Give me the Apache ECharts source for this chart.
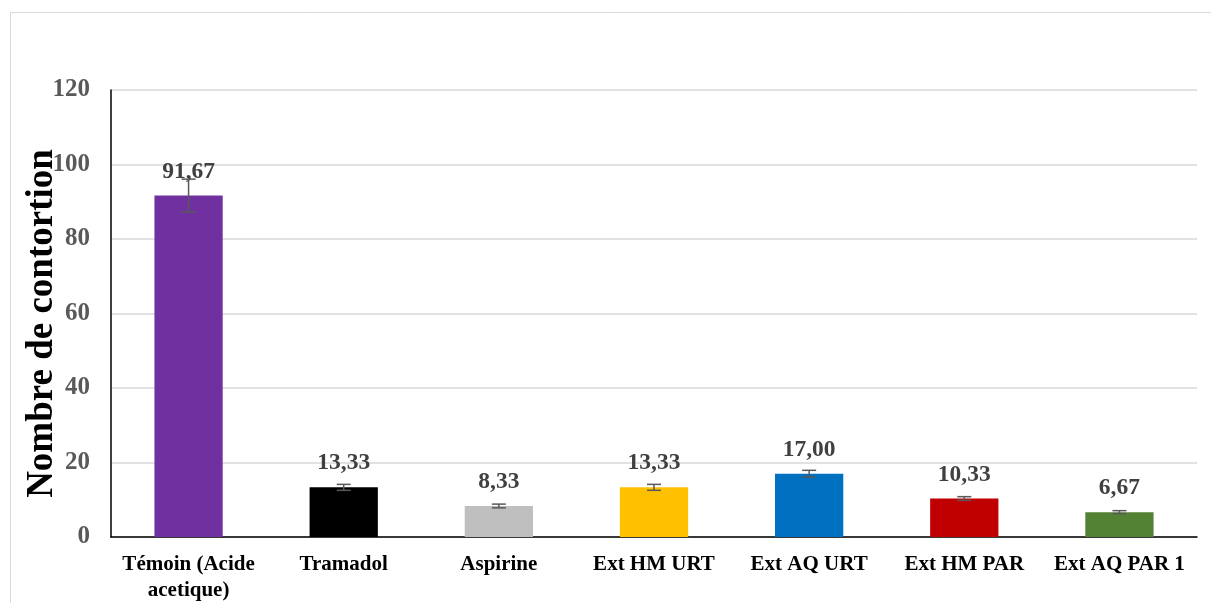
<!DOCTYPE html>
<html><head><meta charset="utf-8">
<script src="https://cdn.jsdelivr.net/npm/echarts@6/dist/echarts.min.js"></script>
<style>html,body{margin:0;padding:0;background:#fff}#c{width:1211px;height:603px}</style>
</head><body><div id="c"></div>
<script>
const categories = ['Témoin (Acide\nacetique)', 'Tramadol', 'Aspirine', 'Ext HM URT', 'Ext AQ URT', 'Ext HM PAR', 'Ext AQ PAR 1'];
const values = [91.67, 13.33, 8.33, 13.33, 17.00, 10.33, 6.67];
const errors = [4.4, 0.8, 0.5, 0.8, 0.9, 0.5, 0.4];
const colors = ['#7030A0', '#000000', '#BFBFBF', '#FFC000', '#0070C0', '#C00000', '#548235'];
const yTicks = [0, 20, 40, 60, 80, 100, 120];

const chart = echarts.init(document.getElementById('c'));
const font = '"Liberation Serif", "Times New Roman", serif';
chart.setOption({
  animation: false,
  graphic: [{type: 'rect', shape: {x: 10.5, y: 12.5, width: 1300, height: 700}, style: {fill: 'none', stroke: '#d9d9d9', lineWidth: 1}, silent: true}],
  grid: {left: 111, right: 14, top: 90, bottom: 66, containLabel: false, outerBoundsMode: 'none'},
  xAxis: {
    type: 'category', data: categories,
    axisLine: {lineStyle: {color: '#000', width: 1.5}},
    axisTick: {show: false},
    axisLabel: {fontFamily: font, fontWeight: 'bold', fontSize: 21, color: '#000', margin: 15, lineHeight: 26, interval: 0}
  },
  yAxis: {
    type: 'value', min: yTicks[0], max: yTicks[yTicks.length - 1], interval: 20,
    name: 'Nombre de contortion', nameLocation: 'middle', nameGap: 50, nameMoveOverlap: false,
    nameTextStyle: {fontFamily: font, fontWeight: 'bold', fontSize: 37, color: '#000', padding: [0, 20, 0, 0]},
    axisLine: {show: true, lineStyle: {color: '#000', width: 1.5}},
    axisTick: {show: false},
    splitLine: {lineStyle: {color: '#d9d9d9', width: 1.5}},
    axisLabel: {fontFamily: font, fontWeight: 'bold', fontSize: 25, color: '#595959', margin: 21}
  },
  series: [{
    type: 'bar', barWidth: '44%',
    data: values.map((v, i) => ({value: v, itemStyle: {color: colors[i]}})),
    label: {show: true, position: 'top', distance: 12, fontFamily: font, fontWeight: 'bold', fontSize: 23.5, color: '#404040',
      formatter: p => p.value.toFixed(2).replace('.', ',')},
    z: 2
  }, {
    type: 'custom',
    data: values.map((v, i) => [i, v - errors[i], v + errors[i]]),
    renderItem: (params, api) => {
      const lo = api.coord([api.value(0), api.value(1)]);
      const hi = api.coord([api.value(0), api.value(2)]);
      const w = 7;
      const st = {stroke: '#595959', lineWidth: 1.5};
      return {type: 'group', children: [
        {type: 'line', shape: {x1: lo[0], y1: lo[1], x2: hi[0], y2: hi[1]}, style: st},
        {type: 'line', shape: {x1: lo[0] - w, y1: lo[1], x2: lo[0] + w, y2: lo[1]}, style: st},
        {type: 'line', shape: {x1: hi[0] - w, y1: hi[1], x2: hi[0] + w, y2: hi[1]}, style: st}
      ]};
    },
    z: 3
  }]
});
</script></body></html>
